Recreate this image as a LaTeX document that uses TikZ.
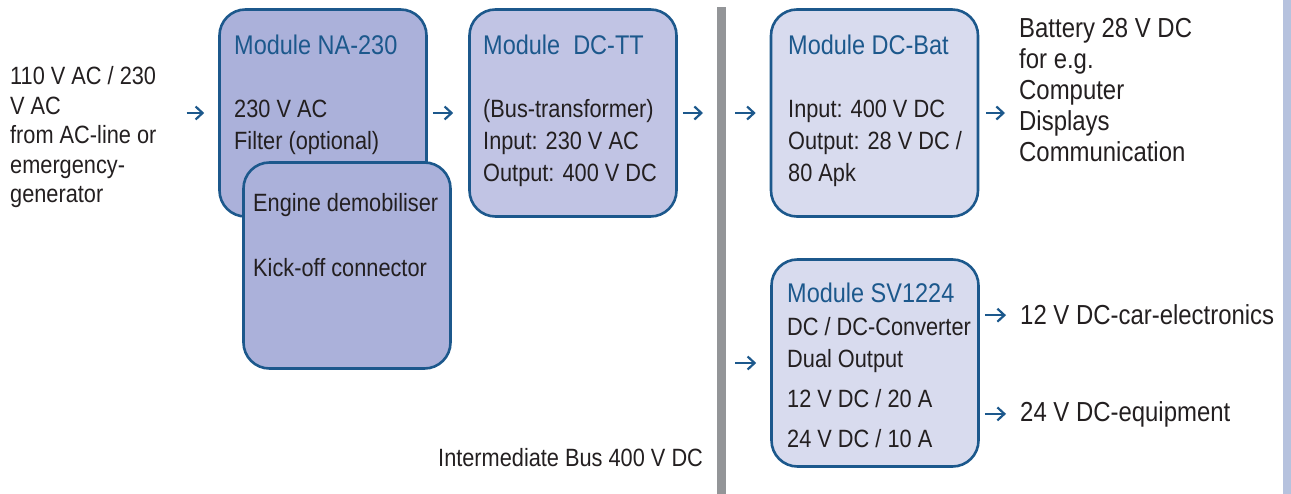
\documentclass[tikz,border=0pt]{standalone}
\usepackage{fontspec}
\setmainfont{Liberation Sans}[FakeStretch=0.87]
\usetikzlibrary{arrows.meta,positioning}
\definecolor{modblue}{RGB}{28,88,140}
\definecolor{txtgray}{RGB}{35,31,32}
\definecolor{fillna}{RGB}{171,177,218}
\definecolor{filltt}{RGB}{193,196,228}
\definecolor{fillbat}{RGB}{216,219,238}
\definecolor{busgray}{RGB}{147,149,152}
\definecolor{edgeblue}{RGB}{182,194,222}

\begin{document}
\begin{tikzpicture}[x=1pt,y=-1pt]
    \tikzstyle{module} = [draw=modblue,line width=2.6pt,rounded corners=26pt,minimum width=207pt,minimum height=207pt,inner sep=0pt]
\tikzstyle{title} = [anchor=base west,inner sep=0pt,text=modblue,font=\fontsize{27}{32}\selectfont]
\tikzstyle{body} = [anchor=base west,inner sep=0pt,align=left,text=txtgray,font=\fontsize{25}{32}\selectfont]
\tikzstyle{outtext} = [body,font=\fontsize{27.5}{31}\selectfont]
\tikzstyle{flow} = [draw=modblue,line width=2.2pt,-{Straight Barb[length=7pt,width=13pt]}]

\useasboundingbox (0,0) rectangle (1291,494);

% modules
\node[module,fill=fillna] (na) at (323,113) {};
\node[module,fill=fillna,minimum height=206pt] (dm) at (347,265.5) {};
\node[module,fill=filltt] (tt) at (573,113) {};
\node[module,fill=fillbat] (bat) at (874.5,113) {};
\node[module,fill=fillbat] (sv) at (875,363) {};

% bus and edge
\node[fill=busgray,minimum width=9pt,minimum height=487pt,inner sep=0pt,anchor=north west] (bus) at (717,7) {};
\fill[edgeblue] (1283,0) rectangle (1291,494);

% texts (multi-line ones placed by their last baseline)
\node[body,font=\fontsize{25}{29.5}\selectfont] (in) at (10,203) {110 V AC / 230\\V AC\\from AC-line or\\emergency-\\generator};
\node[title] (natitle) at (234,55) {Module NA-230};
\node[body] (nabody) at (234,150) {230 V AC\\Filter (optional)};
\node[body,font=\fontsize{25}{65}\selectfont] (dmbody) at (253,277) {Engine demobiliser\\Kick-off connector};
\node[title] (tttitle) at (483,55) {Module\ \ DC-TT};
\node[body] (ttbody) at (483,182) {(Bus-transformer)\\Input: 230 V AC\\Output: 400 V DC};
\node[title] (battitle) at (788,55) {Module DC-Bat};
\node[body] (batbody) at (788,182) {Input: 400 V DC\\Output: 28 V DC /\\80 Apk};
\node[outtext] (batt) at (1019,162) {Battery 28 V DC\\for e.g.\\Computer\\Displays\\Communication};
\node[title] (svtitle) at (787,303) {Module SV1224};
\node[body] (svbody) at (787,447) {DC / DC-Converter\\Dual Output\\[8pt]12 V DC / 20 A\\[8pt]24 V DC / 10 A};
\node[outtext] (o12) at (1020,325) {12 V DC-car-electronics};
\node[outtext] (o24) at (1020,421) {24 V DC-equipment};
\node[body] (buslabel) at (438,466) {Intermediate Bus 400 V DC};

% arrows
\draw[flow,shorten <=30pt,shorten >=14pt] (na.west -| in.east) -- (na.west);
\draw[flow,shorten <=5pt,shorten >=15pt] (na.east) -- (tt.west);
\draw[flow,shorten <=5pt,shorten >=14pt] (tt.east) -- (tt.east -| bus.west);
\draw[flow,shorten <=9pt,shorten >=14pt] (bus.east |- bat.west) -- (bat.west);
\draw[flow,shorten <=9pt,shorten >=14pt] (bus.east |- sv.west) -- (sv.west);
\draw[flow,shorten <=7pt,shorten >=14pt] (bat.east) -- (bat.east -| batt.west);
\draw[flow,shorten <=5pt,shorten >=14pt] (sv.east |- o12.west) -- (o12.west);
\draw[flow,shorten <=5pt,shorten >=14pt] (sv.east |- o24.west) -- (o24.west);
\end{tikzpicture}
\end{document}
